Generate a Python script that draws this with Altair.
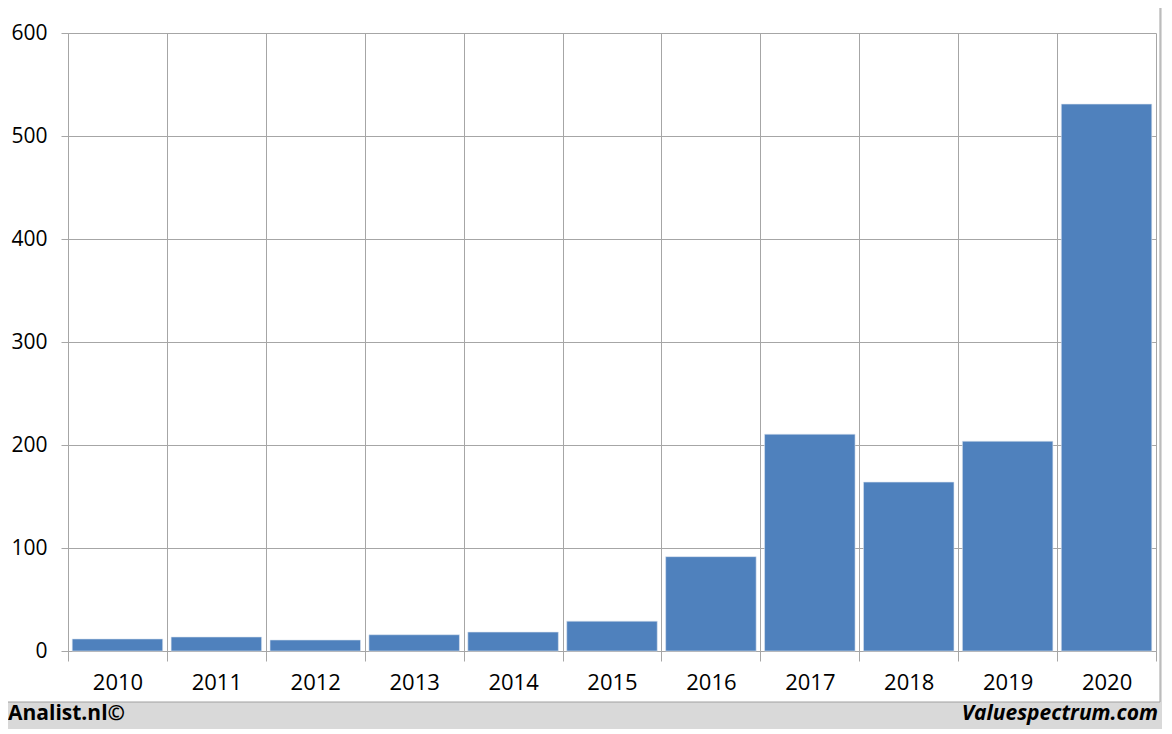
import altair as alt
import pandas as pd

years = ["2010", "2011", "2012", "2013", "2014", "2015", "2016", "2017", "2018", "2019", "2020"]
values = [11.7, 13.6, 10.7, 15.8, 18.4, 29.0, 91.6, 210.5, 164.0, 203.7, 531.0]
y_ticks = [0, 100, 200, 300, 400, 500, 600]
footer_left = "Analist.nl©"
footer_right = "Valuespectrum.com"

df = pd.DataFrame({"year": years, "value": values})

W, H = 1088, 618
GRID = "#a6a6a6"
FONT = "Open Sans"

bars = alt.Chart(df).mark_bar(
    width=alt.RelativeBandSize(0.915),
    color="#4f81bd",
    stroke="#dbe4f0",
    strokeWidth=0.6,
).encode(
    x=alt.X("year:N", sort=years, title=None,
            scale=alt.Scale(paddingInner=0, paddingOuter=0),
            axis=alt.Axis(labelAngle=0, tickBand="extent", grid=True,
                          gridColor=GRID, tickColor=GRID, domainColor=GRID,
                          tickSize=10, labelPadding=11,
                          labelFont=FONT, labelFontSize=22, labelColor="#000000")),
    y=alt.Y("value:Q", title=None,
            scale=alt.Scale(domain=[0, 600], nice=False),
            axis=alt.Axis(values=y_ticks, grid=True, gridColor=GRID, tickColor=GRID,
                          domainColor=GRID, tickSize=7, labelPadding=14,
                          labelFont=FONT, labelFontSize=21, labelColor="#000000")),
)

one = alt.Data(values=[{"k": 1}])

footer_band = alt.Chart(one).mark_rect(color="#d9d9d9").encode(
    x=alt.value(-61), x2=alt.value(W + 10), y=alt.value(H + 51), y2=alt.value(H + 85)
)
right_band = alt.Chart(one).mark_rect(color="#d9d9d9").encode(
    x=alt.value(W + 4), x2=alt.value(W + 10), y=alt.value(-30), y2=alt.value(H + 85)
)
border_h = alt.Chart(one).mark_rule(color="#a0a0a0", strokeWidth=1).encode(
    x=alt.value(-61), x2=alt.value(W + 4), y=alt.value(H + 51)
)
border_v = alt.Chart(one).mark_rule(color="#a0a0a0", strokeWidth=1).encode(
    x=alt.value(W + 4), y=alt.value(-30), y2=alt.value(H + 51)
)
txt_left = alt.Chart(one).mark_text(
    align="left", baseline="middle", font=FONT, fontSize=21, fontWeight="bold", color="#000000"
).encode(x=alt.value(-60), y=alt.value(H + 63), text=alt.value(footer_left))
txt_right = alt.Chart(one).mark_text(
    align="right", baseline="middle", font=FONT, fontSize=21, fontWeight="bold",
    fontStyle="italic", color="#000000"
).encode(x=alt.value(W + 2), y=alt.value(H + 63), text=alt.value(footer_right))

chart = alt.layer(bars, footer_band, right_band, border_h, border_v, txt_left, txt_right).properties(
    width=W, height=H,
    padding={"left": 60, "top": 25, "right": 6, "bottom": 78},
    autosize=alt.AutoSizeParams(type="none"),
    background="#ffffff",
).configure_view(stroke=None)

chart.save("out.html", embed_options={"renderer": "svg", "actions": False})
